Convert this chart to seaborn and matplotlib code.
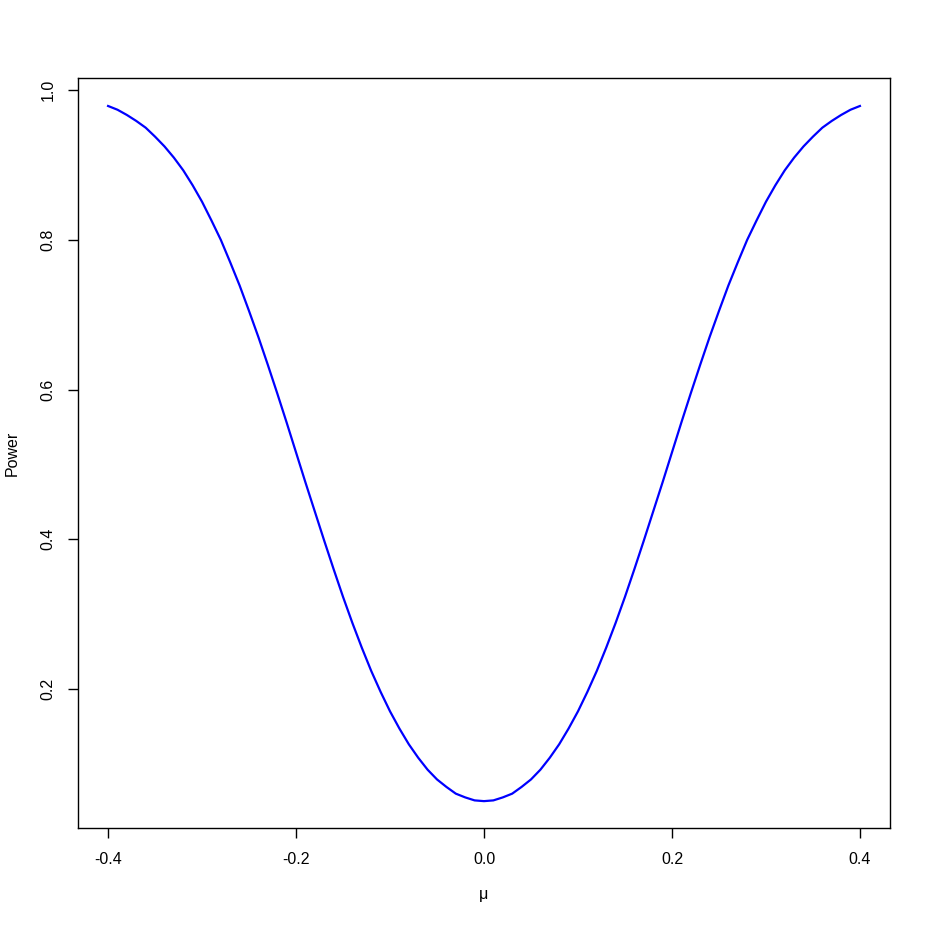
import matplotlib
matplotlib.use("Agg")
import matplotlib.pyplot as plt
import numpy as np
import pandas as pd
import seaborn as sns

# power curve, right half (it is symmetric about 0)
mu_pos = [0.00, 0.01, 0.02, 0.03, 0.04, 0.05, 0.06, 0.07, 0.08, 0.09,
          0.10, 0.11, 0.12, 0.13, 0.14, 0.15, 0.16, 0.17, 0.18, 0.19,
          0.20, 0.21, 0.22, 0.23, 0.24, 0.25, 0.26, 0.27, 0.28, 0.29,
          0.30, 0.31, 0.32, 0.33, 0.34, 0.35, 0.36, 0.37, 0.38, 0.39, 0.40]
power_pos = [0.050, 0.051, 0.055, 0.060, 0.069, 0.079, 0.092, 0.108, 0.126, 0.147,
             0.170, 0.196, 0.224, 0.255, 0.288, 0.323, 0.360, 0.398, 0.437, 0.476,
             0.516, 0.556, 0.595, 0.633, 0.670, 0.705, 0.739, 0.770, 0.800, 0.826,
             0.851, 0.873, 0.893, 0.910, 0.925, 0.938, 0.950, 0.959, 0.967, 0.974, 0.979]
mu = [-m for m in mu_pos[:0:-1]] + mu_pos
power = power_pos[:0:-1] + power_pos
xticks = [-0.4, -0.2, 0.0, 0.2, 0.4]
yticks = [0.2, 0.4, 0.6, 0.8, 1.0]

df = pd.DataFrame({"mu": mu, "power": power})

plt.rcParams["font.family"] = ["Liberation Sans", "DejaVu Sans"]

fig = plt.figure(figsize=(9.31, 9.26), dpi=100)
ax = fig.add_axes([78 / 931, 1 - 828 / 926, (890 - 78) / 931, (828 - 78) / 926])
sns.lineplot(data=df, x="mu", y="power", ax=ax, color="#0000FF", linewidth=1.6, sort=False)

ax.set_xlim(-0.432, 0.432)
ax.set_ylim(0.0141, 1.0164)
ax.set_xticks(xticks)
ax.set_xticklabels(["%.1f" % t for t in xticks])
ax.set_yticks(yticks)
ax.set_yticklabels(["%.1f" % t for t in yticks], rotation=90, va="center")
ax.tick_params(axis="both", length=7, width=1, labelsize=11.5, color="black")
ax.tick_params(axis="x", pad=10)
ax.tick_params(axis="y", pad=9)
for s in ax.spines.values():
    s.set_linewidth(1)
    s.set_color("black")

ax.set_xlabel("\u03bc", fontsize=11.5)
ax.set_ylabel("Power", fontsize=11.5)
ax.xaxis.set_label_coords(0.5, (828 - 895) / 750)
ax.xaxis.label.set_va("center")
ax.yaxis.set_label_coords((12 - 78) / 812, 0.5)
ax.yaxis.label.set_va("center")

fig.savefig("out.png", dpi=100)
